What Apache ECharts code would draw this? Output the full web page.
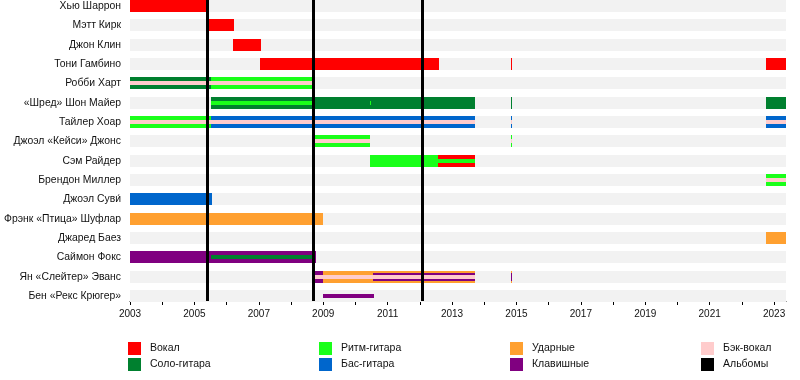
<!DOCTYPE html>
<html><head><meta charset="utf-8">
<script src="https://cdn.jsdelivr.net/npm/echarts@6/dist/echarts.min.js"></script>
<style>html,body{margin:0;padding:0;background:#fff}#c{width:800px;height:380px}</style>
</head><body><div id="c"></div>
<script>
// ---- data ----
const members = ['Хью Шаррон','Мэтт Кирк','Джон Клин','Тони Гамбино','Робби Харт','«Шред» Шон Майер','Тайлер Хоар','Джоэл «Кейси» Джонс','Сэм Райдер','Брендон Миллер','Джоэл Суви́','Фрэнк «Птица» Шуфлар','Джаред Баез','Саймон Фокс','Ян «Слейтер» Эванс','Бен «Рекс Крюгер»'];
const roles = ['Вокал','Соло-гитара','Ритм-гитара','Бас-гитара','Ударные','Клавишные','Бэк-вокал','Альбомы'];
const startYear = 2003;
const endYear = 2023.37;
const tickYears = [2003,2004,2005,2006,2007,2008,2009,2010,2011,2012,2013,2014,2015,2016,2017,2018,2019,2020,2021,2022,2023];
const labelYears = [2003,2005,2007,2009,2011,2013,2015,2017,2019,2021,2023];
const albums = [2005.41, 2008.69, 2012.08];
// [member, start, end, role]
const mainBars = [
  [0, 2003, 2005.42, 0],
  [1, 2005.39, 2006.23, 0],
  [2, 2006.20, 2007.07, 0],
  [3, 2007.04, 2012.59, 0],
  [3, 2014.83, 2014.86, 0],
  [3, 2022.75, 2023.37, 0],
  [4, 2003, 2005.52, 1],
  [4, 2005.52, 2008.75, 2],
  [5, 2005.52, 2013.71, 1],
  [5, 2014.83, 2014.86, 1],
  [5, 2022.75, 2023.37, 1],
  [6, 2003, 2005.52, 2],
  [6, 2005.52, 2013.71, 3],
  [6, 2014.83, 2014.86, 3],
  [6, 2022.75, 2023.37, 3],
  [7, 2008.71, 2010.45, 2],
  [7, 2014.83, 2014.86, 2],
  [8, 2010.45, 2012.56, 2],
  [8, 2012.56, 2013.71, 0],
  [9, 2022.75, 2023.37, 2],
  [10, 2003, 2005.55, 3],
  [11, 2003, 2008.98, 4],
  [12, 2022.75, 2023.37, 4],
  [13, 2003, 2008.77, 5],
  [14, 2008.75, 2008.98, 5],
  [14, 2008.98, 2013.71, 4],
  [14, 2014.83, 2014.86, 4]
];
const wideStripes = [
  [14, 2010.55, 2013.71, 5],
  [14, 2014.83, 2014.86, 5]
];
const narrowStripes = [
  [4, 2003, 2008.75, 6],
  [5, 2005.52, 2008.75, 2],
  [5, 2010.45, 2010.49, 2],
  [6, 2003, 2013.71, 6],
  [6, 2014.83, 2014.86, 6],
  [6, 2022.75, 2023.37, 6],
  [7, 2008.71, 2010.45, 6],
  [7, 2014.83, 2014.86, 6],
  [8, 2012.56, 2013.71, 2],
  [9, 2022.75, 2023.37, 6],
  [13, 2005.52, 2008.75, 1],
  [14, 2008.75, 2013.71, 6],
  [15, 2008.98, 2010.58, 5]
];

// ---- styles ----
const roleColors = ['#ff0000','#00802f','#1aff1a','#0066cc','#ffa030','#800080','#ffcccc','#000000'];
const FONT = 'Liberation Sans, Arial, sans-serif';
const rowPitch = 290/15;
const gridTop = 6 - rowPitch/2;
const gridBottomPx = 296 + rowPitch/2;

function spanRenderer(h){
  return function(params, api){
    const row = api.value(0), s = api.value(1), e = api.value(2), role = api.value(3);
    const p0 = api.coord([s, row]), p1 = api.coord([e, row]);
    const x = Math.round(p0[0]);
    const w = Math.max(1, Math.round(p1[0]) - x);
    return {type:'rect', shape:{x:x, y:Math.round(p0[1]-h/2), width:w, height:h},
      style:{fill: roleColors[role]}};
  };
}

const chart = echarts.init(document.getElementById('c'), null, {renderer:'canvas'});

const graphics = [];
const legendCols = [128, 319, 510, 701];
const legendRows = [342, 358];
for (let i = 0; i < roles.length; i++) {
  const col = Math.floor(i/2), r = i%2;
  graphics.push({type:'rect', left:legendCols[col], top:legendRows[r], shape:{width:13,height:13}, style:{fill:roleColors[i]}});
  graphics.push({type:'text', left:legendCols[col]+22, top:legendRows[r]+1, style:{text:roles[i], font:'10.5px '+FONT, fill:'#111'}});
}

chart.setOption({
  animation:false,
  graphic: graphics,
  grid:[
    {left:130, right:14, top:gridTop, bottom:380-gridBottomPx, containLabel:false, outerBoundsMode:'none'},
    {left:130, right:14, top:0, height:301, containLabel:false, outerBoundsMode:'none'}
  ],
  xAxis:[
    {type:'value', gridIndex:0, min:startYear, max:endYear, show:false},
    {type:'value', gridIndex:1, min:startYear, max:endYear,
     axisLine:{lineStyle:{color:'#000', width:1}},
     axisTick:{show:true, length:4, lineStyle:{color:'#000'}, customValues: tickYears},
     axisLabel:{customValues: labelYears, fontSize:10, fontFamily:FONT, color:'#111', margin:8,
       formatter: v => String(Math.round(v))},
     splitLine:{show:false}}
  ],
  yAxis:[
    {type:'category', gridIndex:0, inverse:true, data:members,
     axisLine:{show:false}, axisTick:{show:false}, splitLine:{show:false},
     axisLabel:{fontSize:10.4, fontFamily:FONT, color:'#111', margin:9}},
    {type:'value', gridIndex:1, min:0, max:1, show:false}
  ],
  series:[
    {type:'custom', xAxisIndex:0, yAxisIndex:0, z:1, silent:true,
     data: members.map((m,i)=>[i, startYear, endYear, 0]),
     renderItem:function(params, api){
       const row = api.value(0);
       const p0 = api.coord([api.value(1), row]), p1 = api.coord([api.value(2), row]);
       return {type:'rect', shape:{x:p0[0], y:Math.round(p0[1]-6), width:p1[0]-p0[0], height:12}, style:{fill:'#f2f2f2'}};
     }},
    {type:'custom', xAxisIndex:0, yAxisIndex:0, z:2, silent:true, data:mainBars, renderItem:spanRenderer(12)},
    {type:'custom', xAxisIndex:0, yAxisIndex:0, z:3, silent:true, data:wideStripes, renderItem:spanRenderer(8)},
    {type:'custom', xAxisIndex:0, yAxisIndex:0, z:4, silent:true, data:narrowStripes, renderItem:spanRenderer(4)},
    {type:'custom', xAxisIndex:1, yAxisIndex:1, z:5, silent:true, data:albums.map(a=>[a]),
     renderItem:function(params, api){
       const top = api.coord([api.value(0), 1]), bot = api.coord([api.value(0), 0]);
       return {type:'rect', shape:{x:Math.round(top[0]-1.5), y:top[1], width:3, height:bot[1]-top[1]}, style:{fill:'#000'}};
     }}
  ]
});
</script></body></html>
